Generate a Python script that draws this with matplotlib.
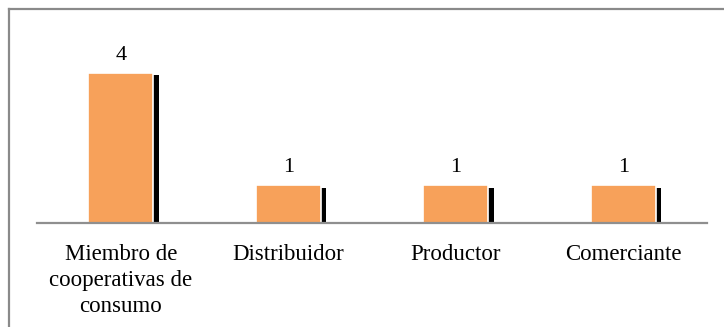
import matplotlib
matplotlib.use("Agg")
import matplotlib.pyplot as plt
from matplotlib import patheffects
from matplotlib.lines import Line2D

categories = ["Miembro de\ncooperativas de\nconsumo", "Distribuidor", "Productor", "Comerciante"]
values = [4, 1, 1, 1]

W, H = 724, 327
DPI = 100
fig = plt.figure(figsize=(W / DPI, H / DPI), dpi=DPI)
fig.patch.set_facecolor("white")

FONT = "Liberation Serif"
bar_color = "#F7A15A"

# Plot area: baseline at y=223 px, about 37 px per unit
ax = fig.add_axes([37 / W, (H - 223) / H, (707 - 37) / W, 186 / H])
x = list(range(len(categories)))
bars = ax.bar(x, values, width=0.39, color=bar_color, edgecolor="white",
              linewidth=1.2, zorder=2)
for b in bars:
    b.set_path_effects([
        patheffects.SimplePatchShadow(offset=(4.0, -1.5), shadow_rgbFace="black", alpha=1.0),
        patheffects.Normal(),
    ])

ax.set_xlim(-0.5, len(categories) - 0.5)
ax.set_ylim(0, 4.95)

for xi, v in zip(x, values):
    ax.annotate(str(v), (xi, v), xytext=(0, 9.5), textcoords="offset points",
                ha="center", va="baseline", fontsize=16, family=FONT, color="black")

for s in ["top", "left", "right"]:
    ax.spines[s].set_visible(False)
ax.spines["bottom"].set_color("#8f8f8f")
ax.spines["bottom"].set_linewidth(1.6)
ax.spines["bottom"].set_zorder(3)
ax.set_yticks([])
ax.set_xticks(x)
ax.set_xticklabels(categories, fontsize=16.5, family=FONT, linespacing=1.32,
                   multialignment="center")
ax.tick_params(axis="x", length=0, pad=15)
ax.set_facecolor("none")

# Chart frame (top and left borders)
frame_kw = dict(color="#8a8a8a", linewidth=1.6, transform=None)
fig.add_artist(Line2D([8.5, W], [H - 8.5, H - 8.5], **frame_kw))
fig.add_artist(Line2D([8.5, 8.5], [0, H - 8.5], **frame_kw))

fig.savefig("out.png", dpi=DPI, facecolor="white")
